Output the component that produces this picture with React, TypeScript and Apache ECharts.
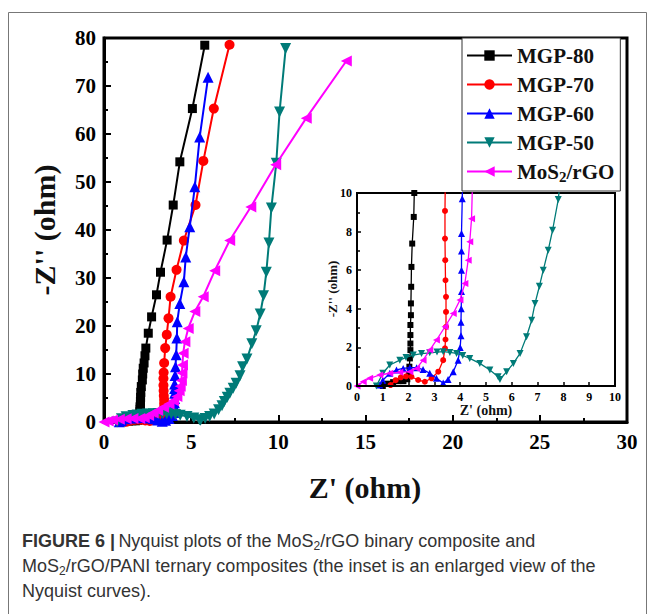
import React, { useEffect, useRef } from "react";
import * as echarts from "echarts";

const seriesNames = ["MGP-80", "MGP-70", "MGP-60", "MGP-50", "MoS2/rGO"];

const mgp80 = [
  [1.0, 0.0], [1.2, 0.12], [1.4, 0.2], [1.6, 0.25], [1.8, 0.25], [1.95, 0.35], [2.02, 0.6],
  [2.03, 1.0], [2.05, 1.43], [2.07, 1.86], [2.07, 2.2], [2.07, 2.64], [2.07, 3.16], [2.09, 3.67],
  [2.09, 4.28], [2.1, 5.14], [2.11, 6.17], [2.14, 7.38], [2.2, 8.76], [2.22, 10.0], [2.25, 11.2],
  [2.3, 12.3], [2.35, 13.8], [2.4, 15.4], [2.54, 18.5], [2.73, 21.9], [3.01, 26.5], [3.24, 31.2],
  [3.62, 37.9], [3.97, 45.2], [4.35, 54.2], [5.07, 65.3], [5.78, 78.5],
];

const mgp70 = [
  [1.3, 0.05], [1.5, 0.3], [1.7, 0.45], [1.9, 0.5], [2.11, 0.48], [2.37, 0.31], [2.63, 0.22],
  [2.89, 0.4], [3.15, 0.74], [3.34, 1.34], [3.41, 1.95], [3.43, 2.41], [3.45, 3.07], [3.45, 3.84],
  [3.45, 4.62], [3.43, 5.48], [3.42, 6.52], [3.41, 7.64], [3.41, 9.07], [3.42, 10.3], [3.45, 12.3],
  [3.51, 15.4], [3.6, 18.2], [3.7, 21.6], [3.82, 26.1], [4.16, 31.7], [4.58, 37.8], [5.25, 45.2],
  [5.7, 54.4], [6.3, 65.3], [7.2, 78.6],
];

const mgp60 = [
  [0.88, 0.05], [1.0, 0.3], [1.27, 0.66], [1.53, 0.83], [1.79, 0.91], [2.05, 0.95], [2.31, 0.95],
  [2.56, 0.85], [2.82, 0.66], [3.08, 0.4], [3.34, 0.15], [3.53, 0.34], [3.73, 0.74], [3.92, 1.34],
  [4.0, 2.0], [4.03, 2.6], [4.03, 3.3], [4.04, 4.0], [4.05, 4.9], [4.05, 6.0], [4.05, 7.0],
  [4.05, 7.9], [4.08, 9.7], [4.1, 11.5], [4.14, 14.0], [4.18, 17.5], [4.2, 20.9], [4.35, 24.7],
  [4.58, 29.2], [4.69, 34.4], [4.92, 40.7], [5.21, 49.0], [5.49, 59.4], [5.97, 71.8],
];

const mgp50 = [
  [0.75, 0.0], [1.0, 0.66], [1.27, 1.09], [1.66, 1.34], [1.9, 1.48], [2.18, 1.6], [2.5, 1.68],
  [2.82, 1.72], [3.1, 1.76], [3.34, 1.78], [3.6, 1.74], [3.86, 1.69], [4.1, 1.58], [4.37, 1.43],
  [4.76, 1.17], [5.15, 0.83], [5.47, 0.48], [5.54, 0.34], [5.8, 0.74], [6.06, 1.17], [6.32, 1.69],
  [6.57, 2.55], [6.77, 3.41], [6.9, 4.28], [7.07, 5.17], [7.22, 6.0], [7.41, 7.03], [7.58, 8.07],
  [7.8, 9.66], [7.95, 11.5], [8.2, 13.1], [8.48, 16.3], [8.73, 19.0], [8.96, 22.5], [9.15, 26.3],
  [9.31, 31.2], [9.46, 37.3], [9.6, 44.6], [9.88, 53.9], [10.07, 64.6], [10.42, 77.8],
];

const mos2rgo = [
  [0.0, 0.0], [0.24, 0.22], [0.49, 0.4], [0.88, 0.57], [1.27, 0.66], [1.66, 0.71], [2.05, 0.74],
  [2.31, 0.91], [2.56, 1.34], [2.82, 1.86], [3.08, 2.38], [3.41, 3.07], [3.73, 3.76], [3.99, 4.45],
  [4.18, 5.31], [4.31, 6.52], [4.37, 7.47], [4.44, 8.67], [4.47, 10.2], [4.5, 11.9], [4.54, 14.3],
  [4.64, 16.7], [4.83, 19.5], [5.21, 23.0], [5.69, 26.1], [6.35, 31.5], [7.21, 37.8], [8.42, 44.8],
  [9.85, 53.6], [11.6, 63.3], [13.9, 75.2],
];

const seriesData = [mgp80, mgp70, mgp60, mgp50, mos2rgo];

const mainXTicks = { min: 0, max: 30, interval: 5 };
const mainYTicks = { min: 0, max: 80, interval: 10 };
const insetXTicks = { min: 0, max: 10, interval: 1 };
const insetYTicks = { min: 0, max: 10, interval: 2 };

const colors = ["#000000", "#ff0000", "#0000ff", "#007b78", "#ff00ff"];
const symbols = [
  "rect",
  "circle",
  "triangle",
  "path://M0,0L10,0L5,9Z",
  "path://M9,0L9,10L0,5Z",
];
const mainSizes = [9, 10, 11, 11, 11];
const insetSizes = [6, 6, 7, 7, 7];

const serif = "'Liberation Serif', 'Times New Roman', serif";
const sans = "'Liberation Sans', Arial, sans-serif";

export default function App() {
  const ref = useRef<HTMLDivElement>(null);
  useEffect(() => {
    if (!ref.current) return;
    const chart = echarts.init(ref.current, null, { renderer: "svg" });

    const mainSeries = seriesNames.map((name, i) => ({
      name,
      type: "line",
      xAxisIndex: 0,
      yAxisIndex: 0,
      data: seriesData[i],
      symbol: symbols[i],
      symbolSize: mainSizes[i],
      showAllSymbol: true,
      clip: true,
      z: 3 + i,
      lineStyle: { color: colors[i], width: 2 },
      itemStyle: { color: colors[i] },
    }));
    const insetSeries = seriesNames.map((name, i) => ({
      name,
      type: "line",
      xAxisIndex: 1,
      yAxisIndex: 1,
      data: seriesData[i],
      symbol: symbols[i],
      symbolSize: insetSizes[i],
      showAllSymbol: true,
      clip: true,
      z: 20 + i,
      lineStyle: { color: colors[i], width: 1.3 },
      itemStyle: { color: colors[i] },
    }));

    const axisLabelMain = {
      fontFamily: serif,
      fontWeight: "bold",
      fontSize: 21,
      color: "#000",
    };
    const axisLabelInset = {
      fontFamily: serif,
      fontWeight: "bold",
      fontSize: 12,
      color: "#000",
    };

    chart.setOption({
      animation: false,
      backgroundColor: "#fff",
      grid: [
        {
          left: 104,
          top: 38,
          width: 523,
          height: 384,
          show: true,
          borderColor: "#000",
          borderWidth: 3,
          backgroundColor: "transparent",
        },
        {
          left: 357,
          top: 193,
          width: 258,
          height: 193,
          show: true,
          borderColor: "#000",
          borderWidth: 2,
          backgroundColor: "#fff",
          z: 10,
        },
      ],
      xAxis: [
        {
          type: "value",
          gridIndex: 0,
          ...mainXTicks,
          axisLine: { show: true, lineStyle: { color: "#000", width: 3 } },
          axisTick: { show: true, inside: true, length: 7, lineStyle: { width: 2, color: "#000" } },
          minorTick: { show: true, splitNumber: 2, length: 4, lineStyle: { width: 2, color: "#000" } },
          splitLine: { show: false },
          axisLabel: { ...axisLabelMain, margin: 9 },
        },
        {
          type: "value",
          gridIndex: 1,
          ...insetXTicks,
          z: 30,
          axisLine: { show: true, lineStyle: { color: "#000", width: 2 } },
          axisTick: { show: true, inside: true, length: 4, lineStyle: { width: 1.5, color: "#000" } },
          splitLine: { show: false },
          axisLabel: { ...axisLabelInset, margin: 5 },
        },
      ],
      yAxis: [
        {
          type: "value",
          gridIndex: 0,
          ...mainYTicks,
          axisLine: { show: true, lineStyle: { color: "#000", width: 3 } },
          axisTick: { show: true, inside: true, length: 7, lineStyle: { width: 2, color: "#000" } },
          minorTick: { show: true, splitNumber: 2, length: 4, lineStyle: { width: 2, color: "#000" } },
          splitLine: { show: false },
          axisLabel: { ...axisLabelMain, margin: 8 },
        },
        {
          type: "value",
          gridIndex: 1,
          ...insetYTicks,
          z: 30,
          axisLine: { show: true, lineStyle: { color: "#000", width: 2 } },
          axisTick: { show: true, inside: true, length: 4, lineStyle: { width: 1.5, color: "#000" } },
          minorTick: { show: true, splitNumber: 2, length: 3, lineStyle: { width: 1.5, color: "#000" } },
          splitLine: { show: false },
          axisLabel: { ...axisLabelInset, margin: 5 },
        },
      ],
      legend: {
        data: seriesNames,
        orient: "vertical",
        left: 462,
        top: 38,
        width: 165,
        z: 40,
        backgroundColor: "#fff",
        borderColor: "#333",
        borderWidth: 1,
        padding: [7, 6, 7, 4],
        itemWidth: 45,
        itemHeight: 13,
        itemGap: 8,
        formatter: (name: string) =>
          name === "MoS2/rGO" ? "{a|MoS}{s|2}{a|/rGO}" : name,
        textStyle: {
          fontFamily: serif,
          fontWeight: "bold",
          fontSize: 21,
          color: "#111",
          rich: {
            a: { fontFamily: serif, fontWeight: "bold", fontSize: 21, color: "#111" },
            s: {
              fontFamily: serif,
              fontWeight: "bold",
              fontSize: 15,
              color: "#111",
              padding: [10, 0, 0, 0],
            },
          },
        },
      },
      graphic: [
        {
          type: "rect",
          silent: true,
          shape: { x: 8.5, y: 12.5, width: 638, height: 640 },
          style: { fill: "none", stroke: "#777", lineWidth: 1 },
          z: 0,
        },
        {
          type: "text",
          x: 44,
          y: 230,
          rotation: Math.PI / 2,
          style: {
            text: "-Z'' (ohm)",
            font: `bold 30px ${serif}`,
            fill: "#111",
            textAlign: "center",
            textVerticalAlign: "middle",
          },
        },
        {
          type: "text",
          x: 365,
          y: 487,
          style: {
            text: "Z' (ohm)",
            font: `bold 30px ${serif}`,
            fill: "#111",
            textAlign: "center",
            textVerticalAlign: "middle",
          },
        },
        {
          type: "text",
          x: 332,
          y: 289,
          rotation: Math.PI / 2,
          z: 50,
          style: {
            text: "-Z'' (ohm)",
            font: `bold 13px ${serif}`,
            fill: "#111",
            textAlign: "center",
            textVerticalAlign: "middle",
          },
        },
        {
          type: "text",
          x: 486,
          y: 410,
          z: 50,
          style: {
            text: "Z' (ohm)",
            font: `bold 14px ${serif}`,
            fill: "#111",
            textAlign: "center",
            textVerticalAlign: "middle",
          },
        },
        {
          type: "text",
          x: 22,
          y: 541,
          style: {
            text: "{b|FIGURE 6 |} {n|Nyquist plots of the MoS}{s|2}{n|/rGO binary composite and}",
            textVerticalAlign: "middle",
            rich: {
              b: { font: `bold 18px ${sans}`, fill: "#333" },
              n: { font: `18px ${sans}`, fill: "#333" },
              s: { font: `12px ${sans}`, fill: "#333", padding: [9, 0, 0, 0] },
            },
          },
        },
        {
          type: "text",
          x: 22,
          y: 566,
          style: {
            text: "{n|MoS}{s|2}{n|/rGO/PANI ternary composites (the inset is an enlarged view of the}",
            textVerticalAlign: "middle",
            rich: {
              n: { font: `18px ${sans}`, fill: "#333" },
              s: { font: `12px ${sans}`, fill: "#333", padding: [9, 0, 0, 0] },
            },
          },
        },
        {
          type: "text",
          x: 22,
          y: 591,
          style: {
            text: "Nyquist curves).",
            font: `18px ${sans}`,
            fill: "#333",
            textVerticalAlign: "middle",
          },
        },
      ],
      series: [...mainSeries, ...insetSeries],
    });
    return () => chart.dispose();
  }, []);
  return (
    <div
      ref={ref}
      style={{ position: "fixed", left: 0, top: 0, width: 654, height: 614 }}
    />
  );
}
